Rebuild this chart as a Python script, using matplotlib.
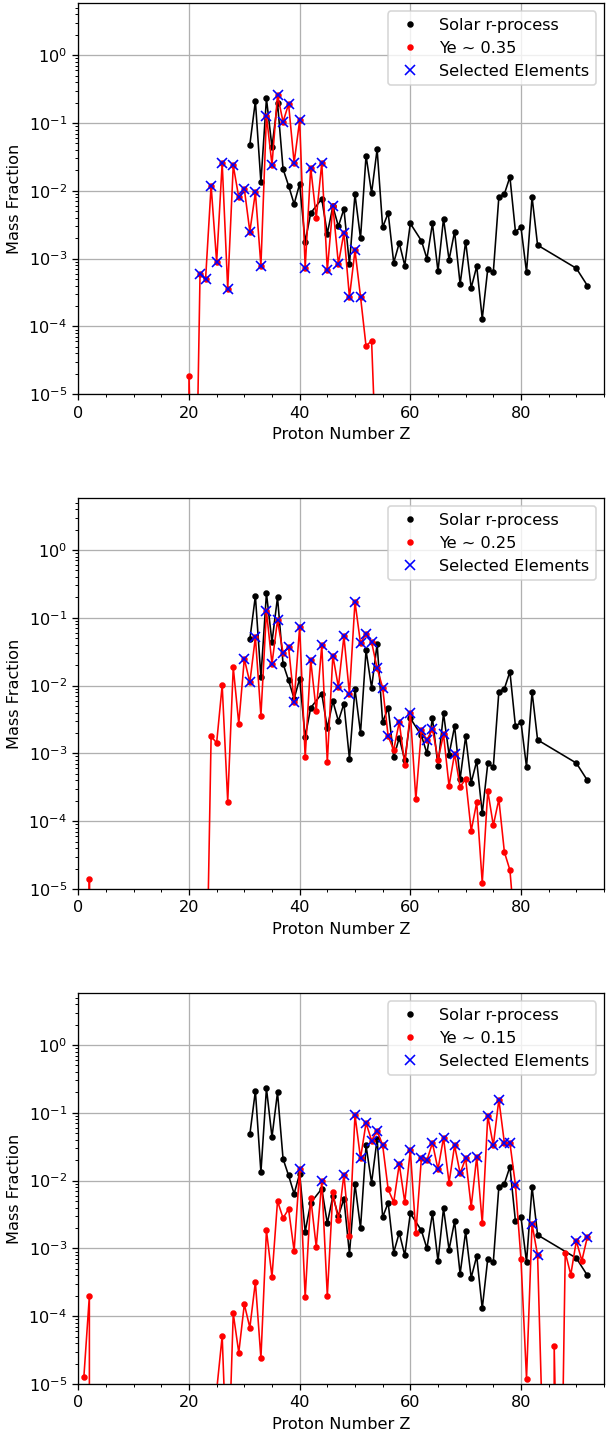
import numpy as np
import matplotlib
matplotlib.use('Agg')
from matplotlib import pyplot as plt
from matplotlib.ticker import AutoMinorLocator

DPI = 116

# solar r-process mass fractions
solar_z = [31, 32, 33, 34, 35, 36, 37, 38, 39, 40, 41, 42, 44, 45, 46, 47, 48, 49,
           50, 51, 52, 53, 54, 55, 56, 57, 58, 59, 60, 62, 63, 64, 65, 66, 67, 68,
           69, 70, 71, 72, 73, 74, 75, 76, 77, 78, 79, 80, 81, 82, 83, 90, 92]
solar_x = [0.048, 0.21, 0.0133, 0.23, 0.044, 0.20, 0.021, 0.0119, 0.0064, 0.0126,
           0.00176, 0.0047, 0.0076, 0.00234, 0.0059, 0.0030, 0.0054, 0.00083,
           0.0089, 0.0020, 0.033, 0.0093, 0.041, 0.0029, 0.0047, 0.00087, 0.0017,
           0.00079, 0.0033, 0.00184, 0.0010, 0.0033, 0.00065, 0.0039, 0.00096,
           0.0025, 0.00042, 0.00178, 0.00037, 0.00077, 0.00013, 0.00071, 0.00063,
           0.0081, 0.0090, 0.016, 0.0025, 0.0029, 0.00063, 0.0081, 0.00158,
           0.00072, 0.00040]

# Ye ~ 0.35
ye35_z = list(range(19, 55))
ye35_x = [0.0, 1.83e-5, 1e-8, 6.0e-4, 5.0e-4, 0.0119, 8.9e-4, 0.0257, 3.6e-4,
          0.0237, 0.008, 0.0107, 0.0025, 0.0095, 7.9e-4, 0.128, 0.0243, 0.26,
          0.104, 0.19, 0.026, 0.109, 7.3e-4, 0.022, 0.0040, 0.0257, 6.7e-4,
          0.0060, 8.4e-4, 0.0024, 2.7e-4, 0.00132, 2.75e-4, 5.1e-5, 6.2e-5, 4e-7]
sel35 = list(range(22, 43)) + list(range(44, 52))

# Ye ~ 0.25
ye25_z = [1, 2, 3] + list(range(23, 80))
ye25_x = [0.0, 1.4e-5, 0.0,
          5e-8, 1.78e-3, 1.43e-3, 0.0101, 1.95e-4, 0.0186, 2.75e-3, 0.0248,
          0.0111, 0.0518, 3.6e-3, 0.125, 0.021, 0.092, 0.0304, 0.037, 5.7e-3,
          0.074, 8.7e-4, 0.0237, 4.2e-3, 0.039, 7.4e-4, 0.0277, 9.5e-3, 0.0535,
          7.5e-3, 0.172, 0.042, 0.058, 0.044, 0.018, 9.3e-3, 1.78e-3, 1.13e-3,
          2.9e-3, 6.8e-4, 4.0e-3, 2.1e-4, 2.2e-3, 1.56e-3, 2.3e-3, 8.1e-4,
          1.9e-3, 3.3e-4, 9.9e-4, 3.2e-4, 4.2e-4, 7.2e-5, 1.9e-4, 1.23e-5,
          2.8e-4, 8.7e-5, 2.1e-4, 3.5e-5, 1.9e-5, 2e-6]
sel25 = [30, 31, 32, 34, 35, 36, 37, 38, 39, 40, 42, 44, 46, 47, 48, 49, 50, 51,
         52, 53, 54, 55, 56, 58, 60, 62, 63, 64, 66, 68]

# Ye ~ 0.15
ye15_z = [1, 2, 3] + list(range(25, 93))
ye15_x = [1.25e-5, 2.0e-4, 0.0,
          8e-6, 5.1e-5, 3e-7, 1.1e-4, 2.9e-5, 1.5e-4, 6.8e-5, 3.2e-4, 2.4e-5,
          1.84e-3, 3.8e-4, 5.0e-3, 2.8e-3, 3.8e-3, 9.2e-4, 0.0146, 1.9e-4,
          5.6e-3, 1.05e-3, 9.8e-3, 2.0e-4, 6.7e-3, 2.6e-3, 0.0123, 1.55e-3,
          0.093, 0.0213, 0.071, 0.039, 0.054, 0.0334, 7.4e-3, 4.8e-3, 0.0175,
          4.8e-3, 0.0282, 1.66e-3, 0.0213, 0.020, 0.036, 0.0146, 0.043, 9.3e-3,
          0.033, 0.0128, 0.0213, 4.1e-3, 0.0224, 2.35e-3, 0.090, 0.033, 0.157,
          0.036, 0.036, 8.6e-3, 6.9e-4, 1.2e-5, 2.3e-3, 7.9e-4, 1e-6, 0.0,
          3.7e-5, 4e-9, 8.7e-4, 4.1e-4, 1.29e-3, 6.6e-4, 1.48e-3]
sel15 = [40, 44, 48, 50, 51, 52, 53, 54, 55, 58, 60, 62, 63, 64, 65, 66, 68, 69,
         70, 72, 74, 75, 76, 77, 78, 79, 82, 83, 90, 92]

runs = [(ye35_z, ye35_x, sel35, 'Ye ~ 0.35'),
        (ye25_z, ye25_x, sel25, 'Ye ~ 0.25'),
        (ye15_z, ye15_x, sel15, 'Ye ~ 0.15')]

fig = plt.figure(figsize=(608 / DPI, 1432 / DPI), dpi=DPI)
bottoms = [0.7247, 0.3792, 0.0335]

for (z, x, sel, lab), b in zip(runs, bottoms):
    ax = fig.add_axes([0.1288, b, 0.8646, 0.2729])
    ax.set_yscale('log')
    ax.plot(solar_z, solar_x, 'k-', lw=1)
    ax.plot(solar_z, solar_x, 'k.', label='Solar r-process')
    ax.plot(z, x, 'r-', lw=1)
    ax.plot(z, x, 'r.', label=lab)
    lookup = dict(zip(z, x))
    ax.plot(sel, [lookup[s] for s in sel], 'bx', label='Selected Elements')
    ax.set_xlim(0, 95)
    ax.set_ylim(1e-5, 5.8)
    ax.xaxis.set_minor_locator(AutoMinorLocator(4))
    ax.grid(True)
    ax.set_xlabel('Proton Number Z')
    ax.set_ylabel('Mass Fraction')
    ax.legend(loc='upper right')

fig.savefig('out.png', dpi=DPI)
